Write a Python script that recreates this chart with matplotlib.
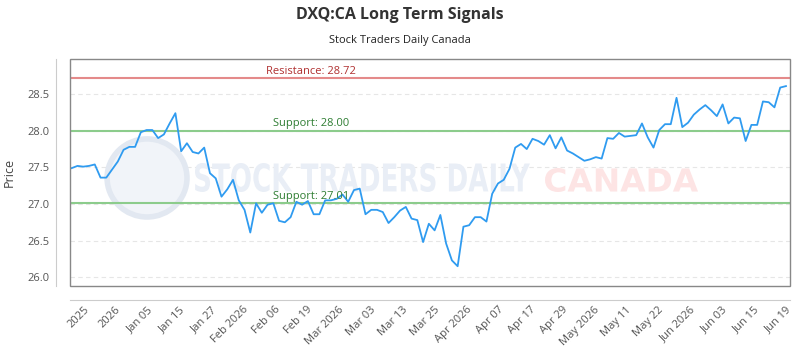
import matplotlib
matplotlib.use('Agg')
from matplotlib import pyplot as plt
from matplotlib.patches import Rectangle, Ellipse, PathPatch
from matplotlib.textpath import TextPath
from matplotlib.font_manager import FontProperties
from matplotlib.transforms import Affine2D, IdentityTransform
import numpy as np

plt.rcParams['font.family'] = ['Open Sans', 'DejaVu Sans']

# closing prices
prices = [27.49, 27.52, 27.51, 27.52, 27.54, 27.36, 27.36, 27.47, 27.58, 27.74,
          27.78, 27.78, 27.98, 28.01, 28.01, 27.90, 27.95, 28.10, 28.24, 27.72,
          27.83, 27.71, 27.69, 27.77, 27.42, 27.35, 27.10, 27.20, 27.33, 27.05,
          26.92, 26.61, 27.01, 26.88, 26.99, 27.01, 26.77, 26.75, 26.82, 27.03,
          26.99, 27.04, 26.86, 26.86, 27.05, 27.05, 27.07, 27.13, 27.03, 27.19,
          27.21, 26.86, 26.92, 26.92, 26.89, 26.74, 26.82, 26.91, 26.96, 26.80,
          26.78, 26.48, 26.73, 26.64, 26.85, 26.46, 26.23, 26.15, 26.69, 26.71,
          26.82, 26.82, 26.76, 27.14, 27.28, 27.33, 27.48, 27.77, 27.82, 27.75,
          27.89, 27.86, 27.81, 27.94, 27.76, 27.91, 27.73, 27.69, 27.64, 27.59,
          27.61, 27.64, 27.62, 27.90, 27.89, 27.97, 27.92, 27.93, 27.94, 28.10,
          27.91, 27.77, 28.01, 28.09, 28.09, 28.45, 28.05, 28.11, 28.22, 28.29,
          28.35, 28.28, 28.20, 28.36, 28.10, 28.18, 28.17, 27.86, 28.08, 28.08,
          28.40, 28.39, 28.32, 28.59, 28.61]

tick_labels = ['2025', '2026', 'Jan 05', 'Jan 15', 'Jan 27', 'Feb 2026', 'Feb 06',
               'Feb 19', 'Mar 2026', 'Mar 03', 'Mar 13', 'Mar 25', 'Apr 2026',
               'Apr 07', 'Apr 17', 'Apr 29', 'May 2026', 'May 11', 'May 22',
               'Jun 2026', 'Jun 03', 'Jun 15', 'Jun 19']

resistance = 28.72
supports = [28.00, 27.01]


def watermark(ax, s, x0, x1, top, bottom, color):
    # squeeze a bold text into a pixel box (figure is 350 px high)
    path = TextPath((0, 0), s, size=10, prop=FontProperties(family='DejaVu Sans', weight='bold'))
    ext = path.get_extents()
    tr = (Affine2D().translate(-ext.x0, -ext.y0)
          .scale((x1 - x0) / ext.width, (bottom - top) / ext.height)
          .translate(x0, 350 - bottom))
    ax.add_patch(PathPatch(tr.transform_path(path), transform=IdentityTransform(),
                           facecolor=color, edgecolor='none', zorder=1))


fig = plt.figure(figsize=(8, 3.5), dpi=100)
ax = fig.add_axes([70 / 800, 1 - 286 / 350, 720 / 800, 227 / 350])

# offset axis lines first (set_position resets the ticks)
for side in ['top', 'right']:
    ax.spines[side].set_visible(False)
for side in ['left', 'bottom']:
    ax.spines[side].set_position(('outward', 10))
    ax.spines[side].set_color('#cccccc')
    ax.spines[side].set_linewidth(0.8)

x = np.arange(len(prices))
ax.plot(x, prices, color='#2f9bf0', lw=1.3, zorder=3)

ax.set_xlim(-0.3, len(prices) - 0.3)
ax.set_ylim(25.88, 28.98)

# levels
ax.axhline(resistance, color='#e48a8a', lw=1.5, zorder=2)
ax.text(41.5, resistance + 0.02, 'Resistance: %.2f' % resistance, color='#b03030',
        fontsize=8, ha='center', va='bottom')
for s in supports:
    ax.axhline(s, color='#8ccc8c', lw=1.5, zorder=2)
    ax.text(41.5, s + 0.02, 'Support: %.2f' % s, color='#2e7d32',
            fontsize=8, ha='center', va='bottom')

# grid
ax.set_yticks([26.0, 26.5, 27.0, 27.5, 28.0, 28.5])
ax.set_yticklabels(['26.0', '26.5', '27.0', '27.5', '28.0', '28.5'])
ax.yaxis.grid(True, color='#e6e6e6', ls=(0, (4, 3)), lw=0.8)
ax.set_axisbelow(True)

# watermark
ax.add_patch(Ellipse((0.107, 0.476), 0.111, 0.344, transform=ax.transAxes,
                     facecolor='#f1f4f9', edgecolor='#e2e8f1', lw=4, zorder=1))
watermark(ax, 'STOCK TRADERS DAILY', 195, 530, 163, 192, '#e9eef6')
watermark(ax, 'CANADA', 545, 698, 168, 192, '#fde4e4')

# x ticks
tick_pos = np.linspace(2.7, 124.6, len(tick_labels))
ax.set_xticks(tick_pos)
ax.set_xticklabels(tick_labels, rotation=45, ha='right', va='center',
                   rotation_mode='anchor', fontsize=8, color='#555555')
ax.tick_params(axis='x', length=0, pad=6)
ax.tick_params(axis='y', length=0, labelsize=8, labelcolor='#555555', pad=5)

ax.add_patch(Rectangle((0, 0), 1, 1, transform=ax.transAxes, fill=False,
                       edgecolor='#888888', lw=1, clip_on=False, zorder=4))

ax.set_ylabel('Price', fontsize=9, color='#444444', labelpad=8)

fig.text(0.5, 1 - 15 / 350, 'DXQ:CA Long Term Signals', ha='center', va='center',
         fontsize=11.5, fontweight='bold', color='#333333')
fig.text(0.5, 1 - 40 / 350, 'Stock Traders Daily Canada', ha='center', va='center',
         fontsize=8, color='#222222')

fig.savefig('out.png', dpi=100)
